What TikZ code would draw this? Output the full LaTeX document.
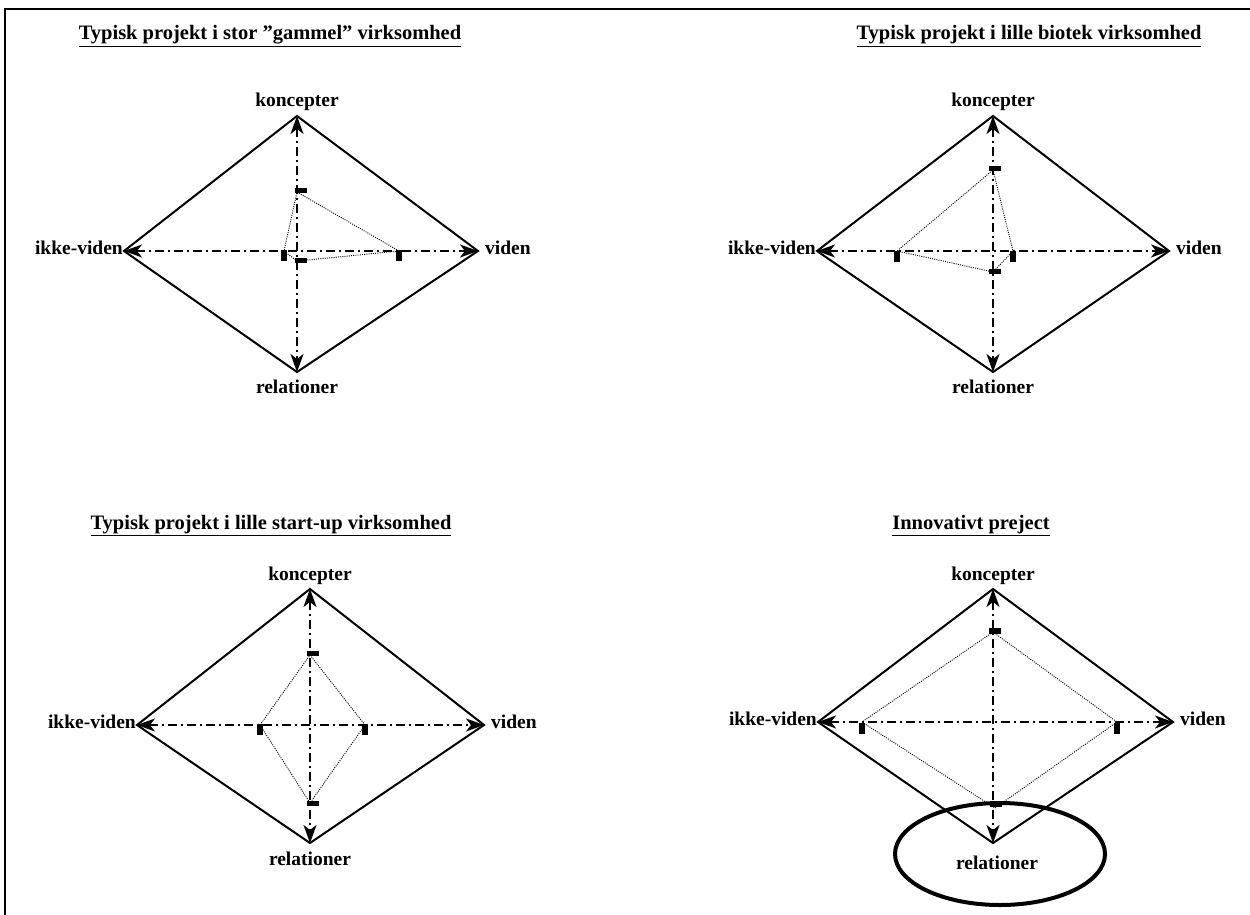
\documentclass[tikz,border=0pt]{standalone}
\usepackage{fontspec}
\setmainfont{Liberation Serif}
\usetikzlibrary{arrows.meta,shapes.geometric}
\tikzset{
  outline/.style={line width=2pt, line join=miter},
  axisline/.style={line width=1.8pt, dash pattern=on 9pt off 4pt on 2pt off 4pt,
    {Stealth[length=18pt,width=13pt,inset=5pt]}-{Stealth[length=18pt,width=13pt,inset=5pt]}},
  profile/.style={line width=0.9pt, dash pattern=on 1pt off 1.2pt},
  vmark/.style={rectangle, fill=black, minimum width=12pt, minimum height=5.5pt, inner sep=0pt},
  hmark/.style={rectangle, fill=black, minimum width=6pt, minimum height=11pt, inner sep=0pt},
  lbl/.style={font=\fontsize{19.5}{22}\selectfont\bfseries, inner sep=0pt},
  ttl/.style={font=\fontsize{20.5}{24}\selectfont\bfseries, inner sep=0pt, anchor=base},
  oval/.style={draw, ellipse, line width=4pt, inner sep=0pt},
}
\begin{document}
\begin{tikzpicture}[x=1pt,y=-1pt]
\useasboundingbox (0,0) rectangle (1250,915);
% frame
\coordinate (fa) at (1260,9);
\coordinate (fb) at (5,9);
\coordinate (fc) at (5,925);
\draw[line width=1.8pt] (fa) -- (fb) -- (fc);

% ---------- panel 1 ----------
\node[ttl] (t1) at (270,40) {\underline{Typisk projekt i stor ”gammel” virksomhed}};
\coordinate (aT) at (297,116);
\coordinate (aL) at (124,251);
\coordinate (aR) at (478,251);
\coordinate (aB) at (297,372);
\draw[outline] (aT) -- (aR) -- (aB) -- (aL) -- cycle;
\draw[axisline] (aL) -- (aR);
\draw[axisline] (aT) -- (aB);
\coordinate (ap1) at (297,192);
\coordinate (ap2) at (399,251);
\coordinate (ap3) at (297,261);
\coordinate (ap4) at (284,251);
\draw[profile] (ap1) -- (ap2) -- (ap3) -- (ap4) -- cycle;
\node[vmark] (am1) at (301,190.5) {};
\node[hmark] (am2) at (399,255.5) {};
\node[vmark] (am3) at (301,260.5) {};
\node[hmark] (am4) at (284,255.5) {};
\node[lbl, anchor=base] (ak) at (297,107) {koncepter};
\node[lbl, anchor=base] (ar) at (297,393) {relationer};
\node[lbl, anchor=mid east] (ai) at (123,252) {ikke-viden};
\node[lbl, anchor=mid west] (av) at (485,252) {viden};

% ---------- panel 2 ----------
\node[ttl] (t2) at (1029,40) {\underline{Typisk projekt i lille biotek virksomhed}};
\coordinate (bT) at (993,116);
\coordinate (bL) at (817,251);
\coordinate (bR) at (1169,251);
\coordinate (bB) at (993,372);
\draw[outline] (bT) -- (bR) -- (bB) -- (bL) -- cycle;
\draw[axisline] (bL) -- (bR);
\draw[axisline] (bT) -- (bB);
\coordinate (bp1) at (993,170);
\coordinate (bp2) at (1013,251);
\coordinate (bp3) at (993,272);
\coordinate (bp4) at (897,251);
\draw[profile] (bp1) -- (bp2) -- (bp3) -- (bp4) -- cycle;
\node[vmark] (bm1) at (995,168.5) {};
\node[hmark] (bm2) at (1013,256) {};
\node[vmark] (bm3) at (995,271.5) {};
\node[hmark] (bm4) at (897,256) {};
\node[lbl, anchor=base] (bk) at (993,107) {koncepter};
\node[lbl, anchor=base] (br) at (993,393) {relationer};
\node[lbl, anchor=mid east] (bi) at (816,252) {ikke-viden};
\node[lbl, anchor=mid west] (bv) at (1176,252) {viden};

% ---------- panel 3 ----------
\node[ttl] (t3) at (271,529) {\underline{Typisk projekt i lille start-up virksomhed}};
\coordinate (cT) at (310,589);
\coordinate (cL) at (137,725);
\coordinate (cR) at (484,725);
\coordinate (cB) at (310,843);
\draw[outline] (cT) -- (cR) -- (cB) -- (cL) -- cycle;
\draw[axisline] (cL) -- (cR);
\draw[axisline] (cT) -- (cB);
\coordinate (cp1) at (310,655);
\coordinate (cp2) at (365,725);
\coordinate (cp3) at (310,803);
\coordinate (cp4) at (260,725);
\draw[profile] (cp1) -- (cp2) -- (cp3) -- (cp4) -- cycle;
\node[vmark] (cm1) at (313,653.5) {};
\node[hmark] (cm2) at (365,729.5) {};
\node[vmark] (cm3) at (313,803.5) {};
\node[hmark] (cm4) at (260,729.5) {};
\node[lbl, anchor=base] (ck) at (310,580) {koncepter};
\node[lbl, anchor=base] (cr) at (310,865) {relationer};
\node[lbl, anchor=mid east] (ci) at (136,726) {ikke-viden};
\node[lbl, anchor=mid west] (cv) at (491,726) {viden};

% ---------- panel 4 ----------
\node[ttl] (t4) at (971,529) {\underline{Innovativt preject}};
\coordinate (dT) at (993,589);
\coordinate (dL) at (818,722);
\coordinate (dR) at (1173,722);
\coordinate (dB) at (993,843);
\draw[outline] (dT) -- (dR) -- (dB) -- (dL) -- cycle;
\draw[axisline] (dL) -- (dR);
\draw[axisline] (dT) -- (dB);
\coordinate (dp1) at (993,632);
\coordinate (dp2) at (1117,722);
\coordinate (dp3) at (995,808);
\coordinate (dp4) at (862,722);
\draw[profile] (dp1) -- (dp2) -- (dp3) -- (dp4) -- cycle;
\node[vmark] (dm1) at (995,631) {};
\node[hmark] (dm2) at (1117,728.5) {};
\node[hmark] (dm4) at (862,728.5) {};
\node[vmark] (dm3) at (996,804) {};
\node[oval, minimum width=210pt, minimum height=102pt] (ov) at (1000,854) {};
\node[lbl, anchor=base] (dk) at (993,580) {koncepter};
\node[lbl, anchor=base] (dr) at (997,869) {relationer};
\node[lbl, anchor=mid east] (di) at (817,723) {ikke-viden};
\node[lbl, anchor=mid west] (dv) at (1180,723) {viden};
\end{tikzpicture}
\end{document}
